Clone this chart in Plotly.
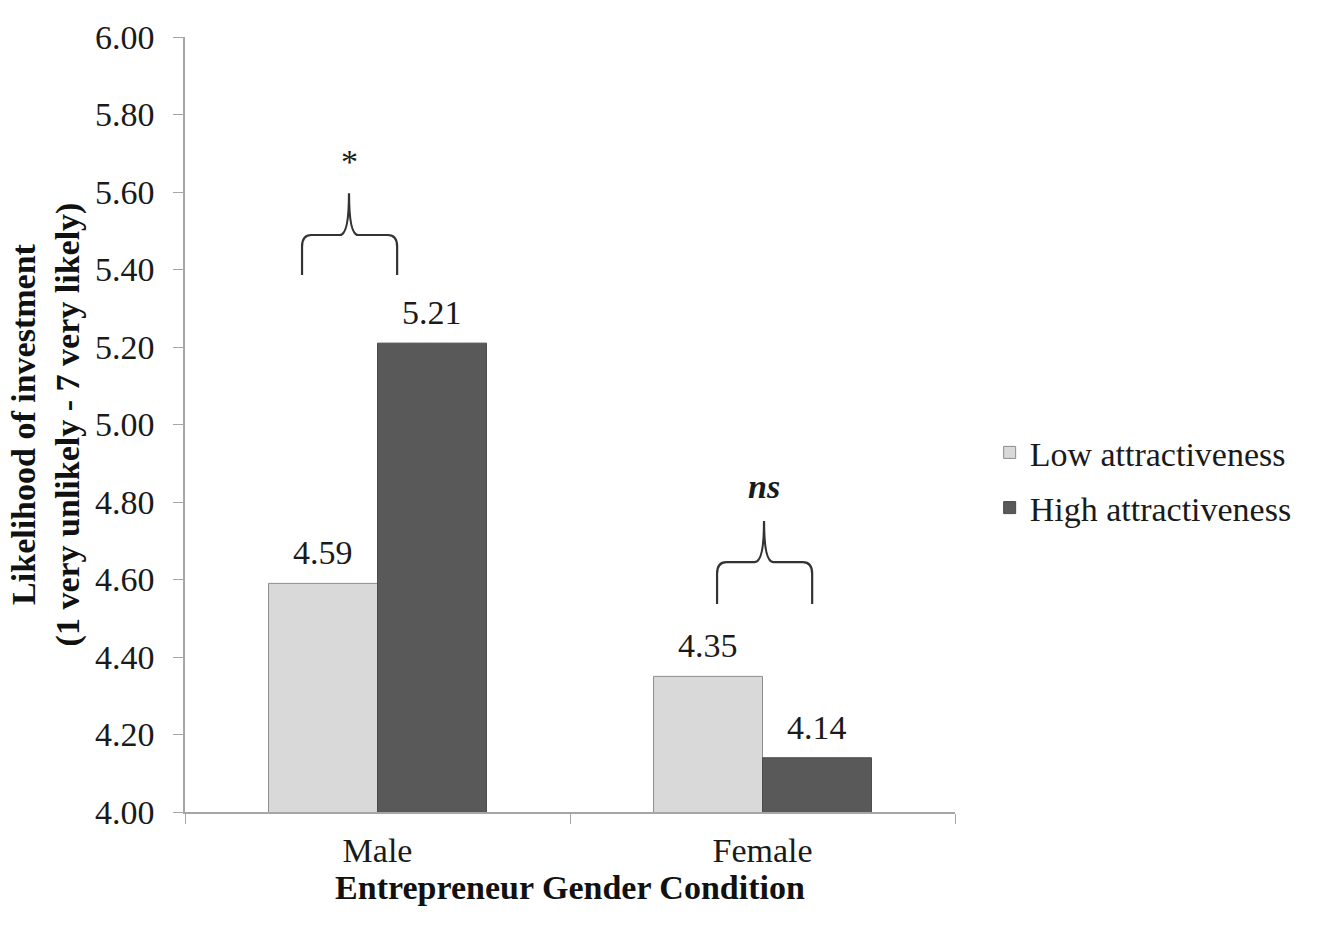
import plotly.graph_objects as go

categories = ["Male", "Female"]
low_values = [4.59, 4.35]
high_values = [5.21, 4.14]
series_names = ["Low attractiveness", "High attractiveness"]
sig_labels = ["*", "<b><i>ns</i></b>"]
y_ticks = [4.0, 4.2, 4.4, 4.6, 4.8, 5.0, 5.2, 5.4, 5.6, 5.8, 6.0]

FONT = "Liberation Serif, Times New Roman, serif"
TXT = "#1a1a1a"
FS = 34

fig = go.Figure()
fig.add_trace(go.Bar(
    x=categories, y=low_values, name=series_names[0], legendgroup="a",
    marker=dict(color="#d9d9d9", line=dict(color="#8c8c8c", width=1)),
))
fig.add_trace(go.Bar(
    x=categories, y=high_values, name=series_names[1], legendgroup="b",
    marker=dict(color="#595959", line=dict(color="#4a4a4a", width=1)),
))

# value labels above bars (low bar offset left, high bar offset right in category units)
for offs, vals in ((-0.1415, low_values), (0.1415, high_values)):
    for i, v in enumerate(vals):
        fig.add_annotation(x=(i + 0.5 + offs) / 2.0, y=v, xref="paper", yref="y",
                           text=f"{v:.2f}", showarrow=False, yanchor="bottom",
                           xanchor="center", yshift=10,
                           font=dict(family=FONT, size=FS, color=TXT))

# braces (x in category units relative to category centre, y in data units)
brace_specs = [
    # idx, left, right, centre, bottom, bar, tip, label_y
    (0, -0.196, 0.051, -0.074, 5.386, 5.489, 5.597, 5.68),
    (1, -0.118, 0.129, 0.004, 4.537, 4.645, 4.751, 4.84),
]

def px(idx, dx):
    return (idx + 0.5 + dx) / 2.0

for (idx, l, r, c, yb, yh, yt, ly), lab in zip(brace_specs, sig_labels):
    xl, xr, xc = px(idx, l), px(idx, r), px(idx, c)
    k = 0.012
    kv = 0.03
    path = (
        f"M {xl},{yb} L {xl},{yh - kv} Q {xl},{yh} {xl + k},{yh} "
        f"L {xc - k},{yh} Q {xc},{yh} {xc},{yt} "
        f"Q {xc},{yh} {xc + k},{yh} L {xr - k},{yh} "
        f"Q {xr},{yh} {xr},{yh - kv} L {xr},{yb}"
    )
    fig.add_shape(type="path", path=path, xref="paper", yref="y",
                  line=dict(color="#333333", width=2.2))
    fig.add_annotation(x=xc, y=ly, xref="paper", yref="y", text=lab,
                       showarrow=False, xanchor="center",
                       font=dict(family=FONT, size=FS, color=TXT))

fig.update_layout(
    width=1329, height=926,
    margin=dict(l=185, r=374, t=37, b=114),
    paper_bgcolor="white", plot_bgcolor="white",
    barmode="group", bargap=0.434, bargroupgap=0,
    font=dict(family=FONT, size=FS, color=TXT),
    showlegend=True,
    legend=dict(x=1.045, y=0.428, xanchor="left", yanchor="middle",
                font=dict(family=FONT, size=FS, color=TXT),
                tracegroupgap=8, itemwidth=30),
)
fig.update_xaxes(
    type="category", showline=True, linecolor="#a6a6a6", linewidth=1.5,
    ticks="outside", tickson="boundaries", ticklen=10, tickcolor="#a6a6a6",
    ticklabelstandoff=7,
    tickfont=dict(family=FONT, size=FS, color=TXT),
    title=dict(text="<b>Entrepreneur Gender Condition</b>", standoff=0,
               font=dict(family=FONT, size=FS, color="#111111")),
    showgrid=False,
)
fig.update_yaxes(
    range=[4.0, 6.0], tickvals=y_ticks, ticktext=[f"{v:.2f}" for v in y_ticks],
    showline=True, linecolor="#a6a6a6", linewidth=1.5,
    ticks="outside", ticklen=10, tickcolor="#a6a6a6", ticklabelstandoff=12,
    tickfont=dict(family=FONT, size=FS, color=TXT),
    title=dict(text="<b>Likelihood of investment<br>(1 very unlikely - 7 very likely)</b>",
               standoff=5, font=dict(family=FONT, size=FS, color="#111111")),
    showgrid=False, zeroline=False,
)

fig.write_html("out.html")
